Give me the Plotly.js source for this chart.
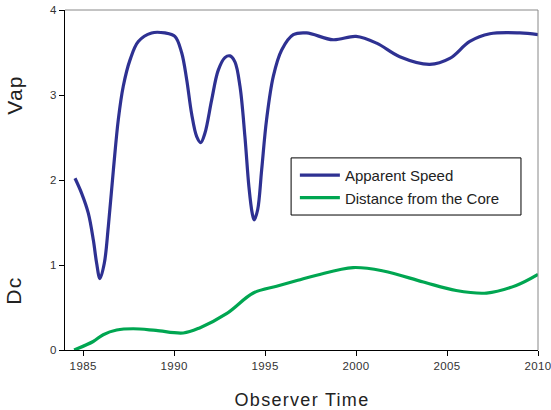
<!DOCTYPE html>
<html><head><meta charset="utf-8">
<script src="https://cdn.plot.ly/plotly-3.0.1.min.js"></script>
<style>
body{margin:0;background:#fff}#c{width:551px;height:410px}
#c .xtick text,#c .ytick text{letter-spacing:0.4px}
#c .annotation-text{letter-spacing:1.3px}
</style>
</head><body><div id="c"></div>
<script>
const speedYears = [1984.55,1984.92,1985.28,1985.56,1985.74,1985.92,1986.16,1986.38,1986.66,1986.93,1987.2,1987.57,1988.03,1988.76,1989.49,1990.04,1990.41,1990.69,1990.96,1991.24,1991.46,1991.69,1992.06,1992.42,1992.79,1993.07,1993.34,1993.62,1993.89,1994.11,1994.29,1994.4,1994.59,1994.81,1995.08,1995.45,1995.91,1996.55,1997.28,1998.74,2000.0,2001.13,2002.4,2004.05,2005.15,2006.25,2007.35,2009.0,2010.0];
const speedValues = [2.02,1.84,1.61,1.29,1.02,0.84,1.02,1.45,2.12,2.71,3.10,3.41,3.63,3.73,3.73,3.69,3.50,3.18,2.78,2.51,2.44,2.55,2.94,3.29,3.44,3.46,3.39,3.10,2.51,1.92,1.61,1.53,1.65,2.12,2.71,3.22,3.53,3.71,3.73,3.65,3.69,3.61,3.45,3.36,3.43,3.63,3.72,3.73,3.71];
const distYears = [1984.5,1985.55,1986.1,1986.84,1987.75,1989.0,1990.5,1991.4,1992.9,1994.35,1995.63,1996.8,1997.83,1999.84,2001.5,2003.7,2005.5,2007.17,2008.8,2010.0];
const distValues = [0.0,0.1,0.18,0.235,0.25,0.23,0.2,0.26,0.43,0.67,0.75,0.82,0.88,0.97,0.93,0.80,0.70,0.67,0.76,0.89];
const xTicks = [1985,1990,1995,2000,2005,2010];
const yTicks = [0,1,2,3,4];

const font = "Liberation Sans, Arial, sans-serif";
const traces = [
  {x: speedYears, y: speedValues, name: 'Apparent Speed', mode: 'lines',
   line: {color: '#2e3192', width: 3.2, shape: 'spline', smoothing: 1}},
  {x: distYears, y: distValues, name: 'Distance from the Core', mode: 'lines',
   line: {color: '#00a651', width: 3.2, shape: 'spline', smoothing: 1}}
];
const layout = {
  width: 551, height: 410,
  margin: {l: 65, r: 13, t: 10, b: 60},
  paper_bgcolor: '#fff', plot_bgcolor: '#fff',
  font: {family: font, color: '#333'},
  showlegend: true,
  legend: {x: 0.486, y: 0.481, xanchor: 'left', yanchor: 'middle',
    borderwidth: 0, bgcolor: 'rgba(0,0,0,0)',
    font: {family: font, size: 15, color: '#222'}, tracegroupgap: 0,
    itemwidth: 40},
  xaxis: {range: [1984, 2010], tickvals: xTicks, ticktext: xTicks.map(String),
    showgrid: false, zeroline: false, showline: true, linecolor: '#000', linewidth: 1,
    ticks: 'outside', ticklen: 5, tickcolor: '#000', ticklabeloverflow: 'allow',
    tickfont: {family: font, size: 11.5, color: '#333'}},
  yaxis: {range: [0, 4], tickvals: yTicks, ticktext: yTicks.map(String),
    showgrid: false, zeroline: false, showline: true, linecolor: '#000', linewidth: 1,
    ticks: 'outside', ticklen: 5, tickcolor: '#000',
    tickfont: {family: font, size: 11.5, color: '#333'}},
  shapes: [
    {type: 'line', xref: 'paper', yref: 'paper', x0: 0, x1: 1, y0: 1, y1: 1, line: {color: '#888', width: 1}},
    {type: 'line', xref: 'paper', yref: 'paper', x0: 1, x1: 1, y0: 0, y1: 1, line: {color: '#888', width: 1}},
    {type: 'rect', xref: 'paper', yref: 'paper', x0: 0.478, x1: 0.964, y0: 0.397, y1: 0.565,
     line: {color: '#000', width: 1}, fillcolor: 'rgba(0,0,0,0)'}
  ],
  annotations: [
    {text: 'Observer Time', xref: 'paper', yref: 'paper', x: 0.5, y: -0.147, xanchor: 'center', yanchor: 'middle',
     showarrow: false, font: {family: font, size: 18, color: '#222'}},
    {text: 'Vap', xref: 'paper', yref: 'paper', x: -0.108, y: 0.75, xanchor: 'center', yanchor: 'middle',
     textangle: -90, showarrow: false, font: {family: font, size: 21, color: '#222'}},
    {text: 'Dc', xref: 'paper', yref: 'paper', x: -0.108, y: 0.175, xanchor: 'center', yanchor: 'middle',
     textangle: -90, showarrow: false, font: {family: font, size: 21, color: '#222'}}
  ]
};
Plotly.newPlot('c', traces, layout, {displayModeBar: false, staticPlot: true});
</script></body></html>
